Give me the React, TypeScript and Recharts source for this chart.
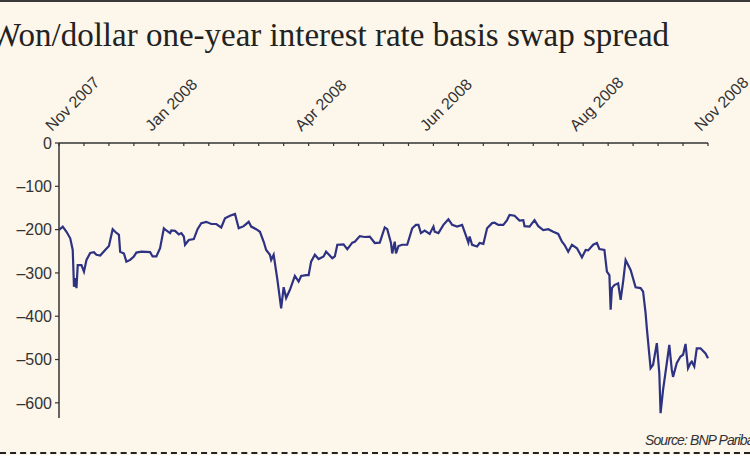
import { Line, LineChart, XAxis, YAxis } from "recharts";

// weeks since the start of Nov 2007
const weeks = [
  0, 0.3, 0.6, 0.9, 1.1, 1.2, 1.3, 1.4, 1.5, 1.8, 2.0, 2.2, 2.5, 2.8, 3.0, 3.3, 3.7, 4.0, 4.3, 4.5,
  4.8, 4.9, 5.2, 5.4, 5.7, 6.0, 6.2, 6.6, 7.3, 7.5, 7.8, 8.1, 8.4, 8.6, 8.9, 9.0, 9.3, 9.6, 9.8, 10.0,
  10.1, 10.4, 10.8, 11.1, 11.4, 11.8, 12.2, 12.6, 13.0, 13.3, 13.7, 14.1, 14.4, 14.8, 15.2, 15.4, 15.8, 16.1, 16.4, 16.6,
  16.9, 17.0, 17.2, 17.5, 17.8, 18.0, 18.2, 18.5, 18.9, 19.2, 19.4, 19.8, 20.0, 20.2, 20.5, 20.8, 21.2, 21.4, 21.9, 22.1,
  22.3, 22.8, 23.1, 23.5, 23.7, 24.1, 24.5, 24.9, 25.3, 25.7, 26.1, 26.3, 26.6, 26.7, 26.9, 27.0, 27.2, 27.5, 27.9, 28.3,
  28.6, 28.8, 29.0, 29.3, 29.7, 30.0, 30.1, 30.4, 30.8, 31.2, 31.5, 31.9, 32.3, 32.5, 32.8, 32.9, 33.1, 33.5, 33.7, 34.0,
  34.3, 34.7, 34.9, 35.2, 35.6, 35.9, 36.1, 36.5, 36.9, 37.2, 37.3, 37.7, 38.1, 38.4, 38.8, 39.2, 39.6, 40.0, 40.3, 40.5,
  40.8, 41.1, 41.5, 41.9, 42.2, 42.4, 42.8, 43.1, 43.3, 43.7, 43.9, 44.1, 44.2, 44.3, 44.5, 44.8, 45.0, 45.2, 45.4, 45.8,
  46.2, 46.6, 46.8, 47.0, 47.1, 47.4, 47.6, 47.9, 48.1, 48.2, 48.4, 48.7, 48.9, 49.1, 49.2, 49.5, 49.8, 50.0, 50.2, 50.4,
  50.6, 50.7, 50.9, 51.1, 51.4, 51.8, 52.0,
];

// basis swap spread, bp
const spread = [
  -201, -193, -205, -220, -247, -332, -312, -335, -282, -282, -297, -270, -254, -252, -258, -260, -247, -238, -199, -205,
  -212, -251, -255, -274, -270, -262, -253, -251, -252, -262, -262, -243, -197, -202, -208, -202, -203, -211, -208, -216,
  -235, -224, -222, -199, -185, -182, -187, -187, -195, -174, -168, -164, -197, -192, -182, -193, -199, -205, -228, -247,
  -258, -270, -258, -316, -382, -333, -358, -339, -307, -320, -307, -305, -305, -274, -258, -268, -262, -251, -266, -262,
  -235, -234, -245, -230, -228, -215, -217, -216, -231, -230, -195, -199, -231, -255, -228, -255, -238, -235, -235, -197,
  -189, -189, -208, -202, -210, -193, -205, -208, -189, -176, -189, -193, -189, -205, -230, -216, -235, -239, -231, -233,
  -197, -185, -184, -189, -189, -178, -166, -168, -179, -178, -192, -193, -178, -192, -201, -199, -205, -210, -228, -235,
  -251, -235, -243, -264, -247, -248, -235, -231, -245, -247, -297, -305, -385, -335, -328, -324, -362, -320, -270, -293,
  -333, -335, -343, -393, -428, -520, -512, -462, -532, -624, -570, -508, -466, -524, -540, -508, -493, -489, -464, -520,
  -508, -505, -516, -474, -474, -486, -497,
];

const xTicks = [0, 2, 4, 6, 8, 10, 12, 14, 16, 18, 20, 22, 24, 26, 28, 30, 32, 34, 36, 38, 40, 42, 44, 46, 48, 50, 52];
const xLabels: Record<number, string> = {
  0: "Nov 2007",
  8: "Jan 2008",
  20: "Apr 2008",
  30: "Jun 2008",
  42: "Aug 2008",
  52: "Nov 2008",
};
const yTicks = [0, -100, -200, -300, -400, -500, -600];

const data = weeks.map((w, i) => ({ week: w, spread: spread[i] }));

const INK = "#333";
const FONT = "'Liberation Sans', Arial, sans-serif";

function TopTick({ x, y, payload }: { x?: number; y?: number; payload?: { value: number } }) {
  if (x == null || y == null || !payload) return null;
  const label = xLabels[payload.value];
  return (
    <g>
      <line x1={x} x2={x} y1={y} y2={y + 3} stroke={INK} strokeWidth={1.2} />
      {label && (
        <text
          x={x - 7}
          y={y - 11}
          transform={`rotate(-45 ${x - 7} ${y - 11})`}
          textAnchor="start"
          fontSize={16}
          fontFamily={FONT}
          fill={INK}
        >
          {label}
        </text>
      )}
    </g>
  );
}

export default function App() {
  return (
    <div
      style={{
        position: "absolute",
        left: 0,
        top: 0,
        width: 750,
        height: 463,
        overflow: "hidden",
        background: "#fdf6ea",
      }}
    >
      <div style={{ position: "absolute", left: 0, top: 0, width: 750, height: 2, background: "#3a3a3a" }} />
      <div
        style={{
          position: "absolute",
          left: -10,
          top: 19,
          fontFamily: "'Liberation Serif', 'Times New Roman', serif",
          fontSize: 33,
          lineHeight: "33px",
          color: "#222",
          whiteSpace: "nowrap",
        }}
      >
        Won/dollar one-year interest rate basis swap spread
      </div>
      <LineChart
        width={750}
        height={463}
        data={data}
        margin={{ top: 43, right: 42, bottom: 45, left: 9 }}
      >
        <XAxis
          dataKey="week"
          type="number"
          orientation="top"
          domain={[0, 52]}
          ticks={xTicks}
          interval={0}
          height={100}
          tickSize={0}
          tickMargin={0}
          axisLine={{ stroke: INK, strokeWidth: 1.5 }}
          tick={<TopTick />}
        />
        <YAxis
          type="number"
          domain={[-635, 0]}
          ticks={yTicks}
          interval={0}
          width={50}
          tickSize={4}
          tickMargin={3}
          axisLine={{ stroke: INK, strokeWidth: 1.5 }}
          tickLine={{ stroke: INK, strokeWidth: 1.2 }}
          tick={{ fontSize: 16, fontFamily: FONT, fill: INK }}
          tickFormatter={(v: number) => String(v).replace("-", "\u2013")}
        />
        <Line
          type="linear"
          dataKey="spread"
          stroke="#2e3282"
          strokeWidth={2.2}
          dot={false}
          isAnimationActive={false}
        />
      </LineChart>
      <div
        style={{
          position: "absolute",
          left: 645,
          top: 432,
          fontFamily: FONT,
          fontStyle: "italic",
          fontSize: 14,
          letterSpacing: -0.9,
          color: "#333",
          whiteSpace: "nowrap",
        }}
      >
        Source: BNP Paribas
      </div>
      <div
        style={{
          position: "absolute",
          left: 0,
          top: 452,
          width: 750,
          height: 0,
          borderTop: "2px dashed #222",
        }}
      />
      <div style={{ position: "absolute", left: 0, top: 455, width: 750, height: 8, background: "#fff" }} />
    </div>
  );
}
